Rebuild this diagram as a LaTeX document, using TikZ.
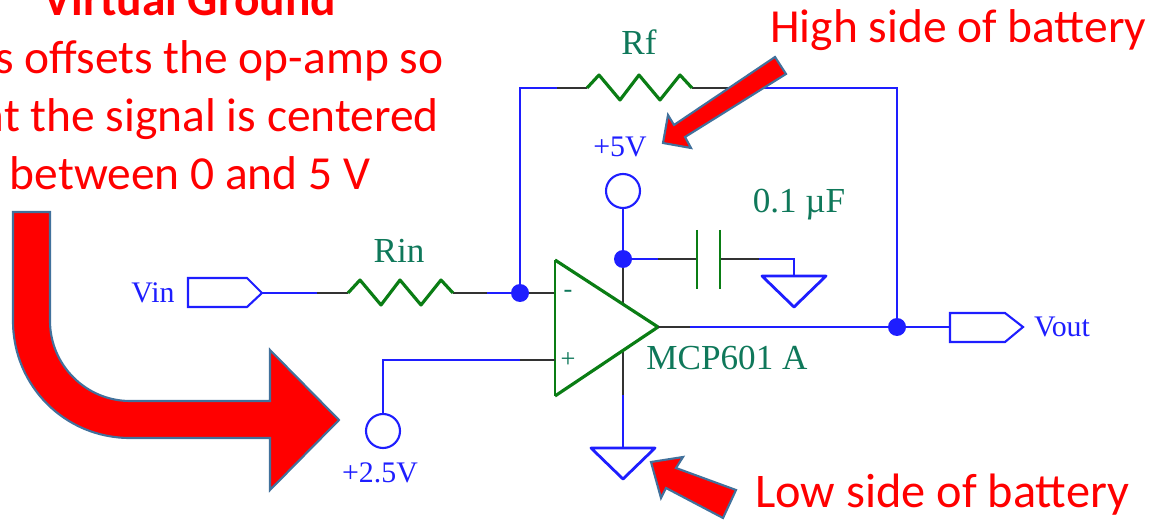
\documentclass[tikz,border=0pt]{standalone}
\usepackage{fontspec}
\setmainfont{Carlito}
\newfontfamily\schemfont{Liberation Serif}
\definecolor{callred}{RGB}{255,0,0}
\definecolor{calledge}{RGB}{65,113,156}
\definecolor{wireblue}{RGB}{30,30,255}
\definecolor{partgreen}{RGB}{10,125,20}
\definecolor{leadgray}{RGB}{50,50,50}
\definecolor{tealtext}{RGB}{15,120,90}
\begin{document}
\begin{tikzpicture}[x=0.02cm,y=-0.02cm,
  wire/.style={wireblue,line width=1.2pt},
  lead/.style={leadgray,line width=1.2pt},
  part/.style={partgreen,line width=1.8pt,line join=round},
  plate/.style={partgreen,line width=1.1pt},
  rail/.style={wireblue,line width=1.6pt,line join=round},
  callarrow/.style={fill=callred,draw=calledge,line width=1.2pt,line join=miter},
  calltext/.style={text=callred,font=\fontsize{27}{33}\selectfont,inner sep=0pt},
  partlabel/.style={text=tealtext,font=\schemfont\fontsize{20}{24}\selectfont,inner sep=0pt},
  netlabel/.style={text=wireblue,font=\schemfont\fontsize{17}{20}\selectfont,inner sep=0pt},
  junction/.style={circle,fill=wireblue,inner sep=0pt,minimum size=0.36cm},
  terminal/.style={circle,draw=wireblue,line width=1.2pt,fill=white,inner sep=0pt,minimum size=0.68cm}]
\path[use as bounding box,clip] (0,0) rectangle (1153,520);

% Pins
\coordinate (vinTip) at (262,293);
\coordinate (vinLead) at (317,293);
\coordinate (rinL) at (348,293);
\coordinate (rinR) at (453,293);
\coordinate (rinOut) at (487,293);
\coordinate (invPin) at (555,293);
\coordinate (rfCorner) at (520,88);
\coordinate (rfLead) at (557,88);
\coordinate (rfL) at (587,88);
\coordinate (rfR) at (692,88);
\coordinate (rfOut) at (740,88);
\coordinate (fbCorner) at (897,88);
\coordinate (ampTop) at (555,260);
\coordinate (ampBot) at (555,396);
\coordinate (ampTip) at (658,327);
\coordinate (supTop) at (623,304);
\coordinate (supBot) at (623,350);
\coordinate (supLead) at (623,395);
\coordinate (gndLow) at (623,448);
\coordinate (gndCap) at (794,276);
\coordinate (capCorner) at (794,259);
\coordinate (capLead) at (658,259);
\coordinate (plateA) at (697,259);
\coordinate (plateB) at (720,259);
\coordinate (capOut) at (759,259);
\coordinate (outLead) at (690,327);
\coordinate (voutTail) at (950,327);
\coordinate (noninvPin) at (555,360);
\coordinate (noninvLead) at (520,360);
\coordinate (refCorner) at (383,360);

% Junctions and terminals
\node[junction] (dotInv) at (520,293) {};
\node[junction] (dotSup) at (623,259) {};
\node[junction] (dotOut) at (897,327) {};
\node[terminal] (termHigh) at (623,191) {};
\node[terminal] (termRef) at (383,431) {};

% Input side
\draw[wire] (vinTip) -- (vinLead);
\draw[lead] (vinLead) -- (rinL);
\draw[lead] (rinR) -- (rinOut);
\draw[wire] (rinOut) -- (dotInv);
\draw[lead] (dotInv) -- (invPin);
\draw[wire] (dotInv) -- (rfCorner) -- (rfLead);
\draw[lead] (rfLead) -- (rfL);
\draw[lead] (rfR) -- (rfOut);
\draw[wire] (rfOut) -- (fbCorner) -- (dotOut);

% Resistors
\foreach \rstart in {rinL,rfL} {
  \draw[part] (\rstart) -- ++(12,-13) -- ++(21,25) -- ++(19,-25) -- ++(21,25) -- ++(20,-25) -- ++(12,13);
}

% Supply and capacitor
\draw[wire] (termHigh) -- (dotSup);
\draw[lead] (dotSup) -- (supTop);
\draw[wire] (dotSup) -- (capLead);
\draw[lead] (capLead) -- (plateA);
\draw[lead] (plateB) -- (capOut);
\draw[wire] (capOut) -- (capCorner) -- (gndCap);
\foreach \pname in {plateA,plateB} {
  \draw[plate] (\pname) ++(0,-29) -- ++(0,59);
}
\draw[lead] (supBot) -- (supLead);
\draw[wire] (supLead) -- (gndLow);

% Grounds
\foreach \gname in {gndCap,gndLow} {
  \draw[rail] (\gname) ++(-32,0) -- ++(64,0) -- ++(-32,31) -- cycle;
}

% Op-amp
\draw[part] (ampTop) -- (ampTip) -- (ampBot);
\draw[plate] (ampBot) -- (ampTop);
\draw[lead] (ampTip) -- (outLead);
\draw[wire] (outLead) -- (dotOut) -- (voutTail);
\draw[lead] (noninvPin) -- (noninvLead);
\draw[wire] (noninvLead) -- (refCorner) -- (termRef);

% Ports
\draw[wire] (vinTip) -- ++(-15,-15) -- ++(-59,0) -- ++(0,29) -- ++(59,0) -- cycle;
\draw[wire] (voutTail) ++(0,-14) -- ++(55,0) -- ++(18,14) -- ++(-18,15) -- ++(-55,0) -- cycle;

% Circuit labels
\node[netlabel] (vinLabel) at (153,293) {Vin};
\node[netlabel] (voutLabel) at (1062,327) {Vout};
\node[netlabel] (highLabel) at (620,147) {+5V};
\node[netlabel] (refLabel) at (380,473) {+2.5V};
\node[partlabel] (rinLabel) at (399,251) {Rin};
\node[partlabel] (rfLabel) at (639,42) {Rf};
\node[partlabel] (capLabel) at (799,205) {0.1 µF};
\node[partlabel] (ampLabel) at (727,358) {MCP601 A};
\node[partlabel,font=\schemfont\fontsize{15}{18}\selectfont] (minusLabel) at (568,294) {-};
\node[partlabel,font=\schemfont\fontsize{15}{18}\selectfont] (plusLabel) at (568,360) {+};

% Red callouts
\draw[callarrow] (13,212) -- (50,212) -- (50,321)
  .. controls (50,365) and (86,401) .. (130,401) -- (270,401) -- (270,350) -- (339,420)
  -- (270,490) -- (270,438) -- (130,438)
  .. controls (65,438) and (13,386) .. (13,321) -- cycle;
\draw[callarrow] (775,57) -- (786,74) -- (685,137) -- (691,148) -- (663,143) -- (668,115) -- (674,125) -- cycle;
\draw[callarrow] (736,490) -- (723,518) -- (666,488) -- (661,498) -- (651,462) -- (683,457) -- (676,468) -- cycle;

\node[calltext,align=center] (groundNote) at (190,86) {\textbf{Virtual Ground}\\This offsets the op-amp so\\that the signal is centered\\between 0 and 5 V};
\node[calltext,anchor=base west] (highNote) at (770,43) {High side of battery};
\node[calltext,anchor=base west,font=\fontsize{27.5}{33}\selectfont] (lowNote) at (755,507) {Low side of battery};
\end{tikzpicture}
\end{document}
